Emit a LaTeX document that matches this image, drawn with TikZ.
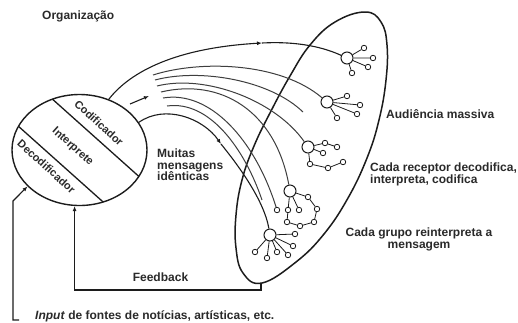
\documentclass[tikz,border=0pt]{standalone}
\usepackage{fontspec}
\setmainfont{Liberation Sans}
\usetikzlibrary{shapes.geometric,arrows.meta}
\definecolor{ink}{HTML}{1C1C1C}
\definecolor{txt}{HTML}{2A2A2A}
\begin{document}
\begin{tikzpicture}[x=1pt,y=-1pt,
  lbl/.style={font=\fontsize{12}{11.8}\selectfont\bfseries, text=txt, inner sep=0pt},
  inlbl/.style={font=\fontsize{11}{12}\selectfont\bfseries, text=txt, inner sep=0pt, rotate=-42},
  conn/.style={draw=ink, line width=1.1pt},
  fan/.style={draw=ink!85, line width=1pt},
  tip/.style={-{Latex[length=5pt,width=4pt]}},
  rbig/.style={circle, draw=ink, line width=1pt, fill=white, minimum size=12pt, inner sep=0pt},
  rsm/.style={circle, draw=ink, line width=0.8pt, fill=white, minimum size=5.5pt, inner sep=0pt},
  link/.style={draw=ink, line width=0.8pt}
]
\useasboundingbox (0,0) rectangle (518,322);
\fill[white] (0,0) rectangle (518,322);

% audience ellipse
\draw[ink, line width=1.5pt] plot[smooth cycle, tension=0.7] coordinates {(365,12) (381,22) (387,45) (386,80) (379,120) (367,158) (348,198) (324,234) (296,262) (262,283) (243,273) (236,248) (236,215) (242,180) (254,146) (271,111) (290,76) (310,45) (335,22)};
\coordinate (audbot) at (261,283);

% organization
\node[ellipse, draw=ink, line width=1.4pt, minimum width=135pt, minimum height=111pt, inner sep=0pt] (org) at (79.5,150) {};
\begin{scope}
\clip (79.5,150) ellipse [x radius=67.5pt, y radius=55.5pt];
\draw[ink, line width=1.3pt] (30,79.1) -- (160,195.3);
\draw[ink, line width=1.3pt] (0,109.8) -- (130,226);
\end{scope}
\node[inlbl] (tcod) at (99,123) {Codificador};
\node[inlbl] (tint) at (72.5,147) {Interprete};
\node[inlbl] (tdec) at (46.5,166.5) {Decodificador};

% receivers
\node[rbig] (A) at (347,58) {};
\node[rsm] (a1) at (364,48) {};
\node[rsm] (a2) at (373,58) {};
\node[rsm] (a3) at (368,67) {};
\node[rsm] (a4) at (352,73) {};
\node[rbig] (B) at (327,102) {};
\node[rsm] (b1) at (347,96) {};
\node[rsm] (b2) at (360,105) {};
\node[rsm] (b3) at (357,114) {};
\node[rsm] (b4) at (337,118) {};
\node[rbig] (C) at (308,147) {};
\node[rsm] (c1) at (325,143) {};
\node[rsm] (c2) at (337,147) {};
\node[rsm] (c3) at (323,153) {};
\node[rsm] (c4) at (310,164) {};
\node[rsm] (c5) at (328,168) {};
\node[rsm] (c6) at (343,162) {};
\node[rbig] (D) at (290,191) {};
\node[rsm] (d1) at (277,210) {};
\node[rsm] (d2) at (288,210) {};
\node[rsm] (d3) at (299,210) {};
\node[rsm] (d4) at (308,197) {};
\node[rsm] (d5) at (317,209) {};
\node[rsm] (d6) at (314,222) {};
\node[rsm] (d7) at (300,226) {};
\node[rsm] (d8) at (287,222) {};
\node[rbig] (E) at (270,235) {};
\node[rsm] (e1) at (295,234) {};
\node[rsm] (e2) at (293,246) {};
\node[rsm] (e3) at (288,255) {};
\node[rsm] (e4) at (277,252) {};
\node[rsm] (e5) at (267,258) {};
\node[rsm] (e6) at (255,252) {};

\draw[link] (A) -- (a1) (A) -- (a2) (A) -- (a3) (A) -- (a4);
\draw[link] (B) -- (b1) (B) -- (b2) (B) -- (b3) (B) -- (b4);
\draw[link] (C) -- (c1) (c1) -- (c2) (C) -- (c3) (C) -- (c4) (c4) -- (c5) (c5) -- (c6);
\draw[link] (D) -- (d2) (D) -- (d3) (D) -- (d4) (d4) -- (d5) (d5) -- (d6) (d6) -- (d7) (d7) -- (d8) (d8) -- (d2);
\draw[link] (E) -- (e1) (E) -- (e2) (E) -- (e3) (E) -- (e4) (E) -- (e5) (E) -- (e6);

% main arcs
\coordinate (tarr) at (262,43);
\coordinate (barr) at (221,144);
\draw[conn, tip] (org.60) .. controls (130,72) and (175,48) .. (tarr);
\draw[conn] (tarr) .. controls (300,41) and (325,48) .. (A);
\draw[conn, tip] (org.25) .. controls (165,104) and (203,118) .. (barr);
\draw[conn] (barr) .. controls (238,165) and (264,200) .. (E);

% fan
\coordinate (s1) at (153,75);
\coordinate (s2) at (155,80);
\coordinate (s3) at (157,86);
\coordinate (s4) at (161,92);
\coordinate (s5) at (163,98);
\coordinate (s6) at (167,106);
\coordinate (f2) at (303,112);
\coordinate (f6) at (262,200);
\draw[fan] (s1) .. controls (200,60) and (280,62) .. (B);
\draw[fan] (s2) .. controls (200,68) and (270,80) .. (f2);
\draw[fan] (s3) .. controls (205,74) and (275,100) .. (C);
\draw[fan] (s4) .. controls (220,78) and (275,110) .. (D);
\draw[fan] (s5) .. controls (210,90) and (255,140) .. (d1);
\draw[fan] (s6) .. controls (210,100) and (245,150) .. (f6);
\coordinate (sa0) at (130,104);
\coordinate (sa1) at (149,96);
\draw[conn, tip] (sa0) -- (sa1);

% feedback and input
\coordinate (fb1) at (261,290);
\draw[conn, tip] (audbot) -- (fb1) -| (org.265);
\coordinate (in0) at (19,320);
\coordinate (in1) at (13,320);
\coordinate (in2) at (13,201);
\draw[conn, tip] (in0) -- (in1) -- (in2) -- (org.215);

% texts
\node[lbl, anchor=base west] (torg) at (42,19.5) {Organização};
\node[lbl, anchor=base west] (taud) at (386,118) {Audiência massiva};
\node[lbl, anchor=north west, align=left] (trec) at (370,162.3) {Cada receptor decodifica,\\interpreta, codifica};
\node[lbl, anchor=north, align=center] (tgrp) at (419,227.3) {Cada grupo reinterpreta a\\mensagem};
\node[lbl, anchor=north west, align=left] (tmsg) at (157,148.4) {Muitas\\mensagens\\idênticas};
\node[lbl, anchor=base] (tfb) at (160.5,281.5) {Feedback};
\node[lbl, anchor=base west] (tinp) at (35,319.5) {\textit{Input} de fontes de notícias, artísticas, etc.};
\end{tikzpicture}
\end{document}
